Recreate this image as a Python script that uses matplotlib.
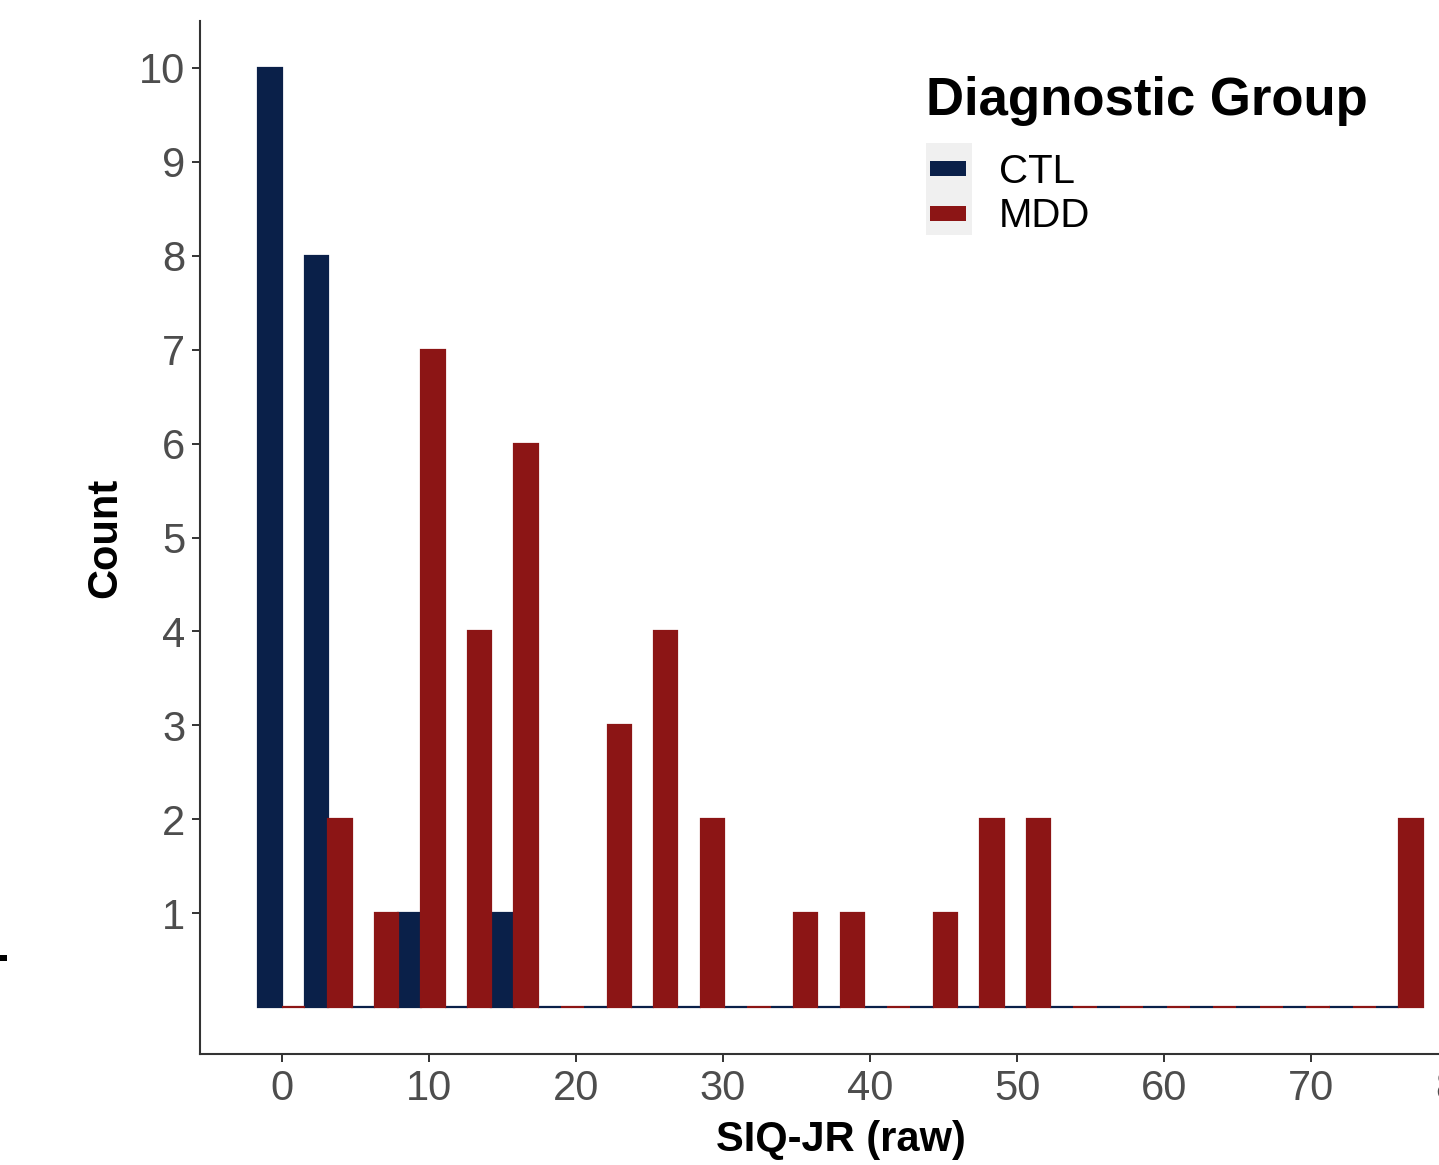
import numpy as np
import matplotlib
matplotlib.use("Agg")
import matplotlib.pyplot as plt
from matplotlib.patches import Rectangle

# histogram of SIQ-JR raw scores, 25 bins over 0..76, dodged by group
bin_centers = [0, 3.17, 6.33, 9.5, 12.67, 15.83, 19, 22.17, 25.33, 28.5, 31.67, 34.83,
               38, 41.17, 44.33, 47.5, 50.67, 53.83, 57, 60.17, 63.33, 66.5, 69.67, 72.83, 76]
ctl_counts = [10, 8, 0, 1, 0, 1, 0, 0, 0, 0, 0, 0, 0, 0, 0, 0, 0, 0, 0, 0, 0, 0, 0, 0, 0]
mdd_counts = [0, 2, 1, 7, 4, 6, 0, 3, 4, 2, 0, 1, 1, 0, 1, 2, 2, 0, 0, 0, 0, 0, 0, 0, 2]
groups = ["CTL", "MDD"]
x_ticks = [0, 10, 20, 30, 40, 50, 60, 70, 80]
y_ticks = [1, 2, 3, 4, 5, 6, 7, 8, 9, 10]

NAVY, CARDINAL = "#0A2049", "#8C1515"
W, H = 1439, 1165
plt.rcParams["font.family"] = ["Liberation Sans", "DejaVu Sans"]


def px(x, y):
    return x / W, 1 - y / H


fig = plt.figure(figsize=(W / 100, H / 100), dpi=100)
ax = fig.add_axes([200 / W, (H - 1054) / H, 1281 / W, 1033 / H])

bw = (bin_centers[1] - bin_centers[0]) / 2
xc = np.array(bin_centers)
ax.bar(xc - bw / 2, ctl_counts, bw, color=NAVY, edgecolor=NAVY, linewidth=1.6)
ax.bar(xc + bw / 2, mdd_counts, bw, color=CARDINAL, edgecolor=CARDINAL, linewidth=1.6)

ax.set_xlim(-5.55, 81.55); ax.set_ylim(-0.5, 10.5)
ax.set_xticks(x_ticks); ax.set_yticks(y_ticks)
for s in ["top", "right"]:
    ax.spines[s].set_visible(False)
for s in ["left", "bottom"]:
    ax.spines[s].set_color("#333333"); ax.spines[s].set_linewidth(1.5)
ax.tick_params(colors="#333333", labelcolor="#4D4D4D", labelsize=30, length=5.5, width=1.4, pad=5)
ax.set_xlabel("SIQ-JR (raw)", fontsize=30, fontweight="bold", labelpad=8)
ax.set_ylabel("Count", fontsize=30, fontweight="bold", labelpad=10)

# legend drawn by hand (ggplot-style grey key background)
x0, y0 = px(926, 235)
fig.patches.append(Rectangle((x0, y0), 46 / W, 92 / H, transform=fig.transFigure,
                             facecolor="#F0F0F0", edgecolor="none"))
for lab, col, top, base in zip(groups, [NAVY, CARDINAL], [161, 206], [183, 227]):
    kx, ky = px(930, top + 15)
    fig.patches.append(Rectangle((kx, ky), 36 / W, 15 / H, transform=fig.transFigure,
                                 facecolor=col, edgecolor="none"))
    fig.text(*px(999, base), lab, fontsize=29, va="baseline", ha="left", color="black")
fig.text(*px(926, 115), "Diagnostic Group", fontsize=38, fontweight="bold", va="baseline", ha="left")

# stray mark at left edge of the original screenshot
fig.patches.append(Rectangle(px(0, 961), 7 / W, 6 / H, transform=fig.transFigure,
                             facecolor="black", edgecolor="none"))

fig.savefig("out.png", dpi=100)
